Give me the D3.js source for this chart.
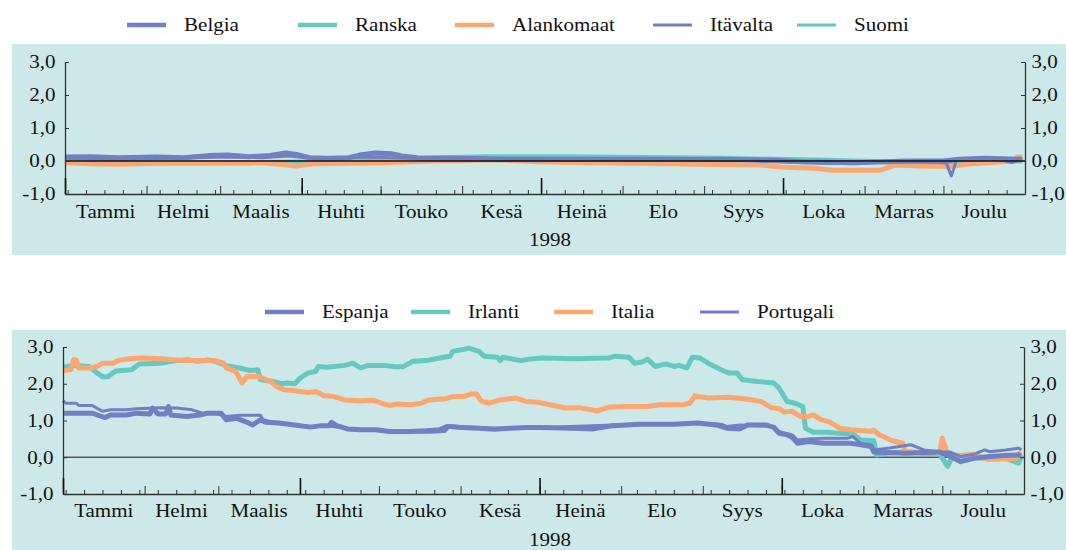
<!DOCTYPE html>
<html>
<head>
<meta charset="utf-8">
<script src="https://cdn.jsdelivr.net/npm/d3@7"></script>
<style>
  body { margin: 0; background: #fff; }
  text { font-family: "Liberation Serif", "Times New Roman", serif; fill: #111; }
</style>
</head>
<body>
<div id="chart"></div>
<script>
// yield spreads, 1998 – values read as [day of year, value]
var monthNames = ["Tammi", "Helmi", "Maalis", "Huhti", "Touko", "Kesä", "Heinä", "Elo", "Syys", "Loka", "Marras", "Joulu"];
var yearLabel = "1998";
var yTicks = [-1, 0, 1, 2, 3];

// top panel
var belgia = [[0,0.12],[10,0.13],[20,0.1],[35,0.12],[45,0.1],[55,0.17],[62,0.18],[70,0.13],[78,0.17],[84,0.24],[88,0.2],[93,0.1],[100,0.08],[108,0.1],[112,0.18],[118,0.24],[124,0.22],[128,0.15],[134,0.1],[150,0.08],[170,0.05],[200,0.05],[230,0.05],[260,0.04],[270,0.02],[280,-0.02],[300,-0.05],[320,0.0],[334,0.0],[340,0.05],[350,0.08],[364,0.05]];
var ranska = [[0,-0.02],[10,-0.05],[40,-0.05],[70,-0.05],[90,-0.03],[110,0.0],[130,0.05],[145,0.1],[160,0.13],[180,0.13],[200,0.12],[230,0.1],[250,0.08],[270,0.05],[290,0.02],[310,-0.02],[330,-0.08],[340,-0.03],[364,0.0]];
var alankomaat = [[0,-0.05],[10,-0.08],[20,-0.1],[35,-0.07],[55,-0.06],[75,-0.05],[82,-0.1],[88,-0.15],[95,-0.08],[120,-0.05],[140,0.0],[165,0.03],[180,-0.02],[200,-0.05],[220,-0.07],[240,-0.1],[265,-0.12],[272,-0.18],[285,-0.22],[292,-0.28],[310,-0.28],[316,-0.12],[325,-0.15],[336,-0.17],[345,-0.08],[355,-0.03],[361,0.0],[362,0.12],[364,0.12]];
var itavalta = [[0,0.08],[15,0.05],[30,0.07],[50,0.1],[60,0.12],[75,0.1],[85,0.15],[95,0.07],[115,0.12],[125,0.1],[140,0.05],[170,0.05],[210,0.07],[250,0.05],[272,-0.03],[290,-0.07],[305,-0.05],[320,-0.02],[335,-0.05],[337,-0.45],[339,0.03],[355,0.05],[360,-0.05],[364,0.05]];
var suomi = [[0,-0.05],[20,-0.08],[50,-0.08],[80,-0.05],[100,0.0],[120,0.05],[150,0.1],[180,0.12],[210,0.1],[240,0.07],[270,0.03],[300,-0.02],[330,-0.05],[345,0.0],[364,0.05]];

// bottom panel
var espanja = [[0,1.2],[11,1.2],[13,1.15],[16,1.08],[18,1.15],[24,1.15],[28,1.2],[33,1.18],[34,1.34],[36,1.18],[39,1.18],[40,1.38],[41,1.15],[47,1.11],[52,1.15],[55,1.2],[60,1.2],[62,1.02],[66,1.06],[70,0.95],[72,0.88],[75,1.02],[77,0.95],[82,0.93],[88,0.88],[94,0.82],[98,0.86],[101,0.86],[102,0.95],[104,0.86],[108,0.77],[113,0.75],[119,0.75],[124,0.7],[132,0.7],[138,0.72],[143,0.75],[146,0.84],[151,0.81],[158,0.79],[164,0.76],[170,0.79],[176,0.81],[181,0.81],[194,0.79],[201,0.77],[209,0.86],[219,0.9],[232,0.9],[241,0.93],[248,0.88],[252,0.79],[257,0.77],[260,0.88],[267,0.88],[270,0.81],[272,0.65],[275,0.61],[277,0.54],[279,0.38],[283,0.43],[289,0.38],[299,0.38],[303,0.34],[307,0.29],[308,0.14],[320,0.11],[333,0.14],[336,0.06],[341,-0.12],[346,-0.03],[352,0.02],[358,0.05],[364,0.06]];
var irlanti = [[0,2.45],[4,2.5],[10,2.47],[13,2.29],[15,2.19],[17,2.19],[20,2.35],[26,2.38],[29,2.54],[37,2.56],[43,2.63],[48,2.65],[51,2.61],[55,2.65],[58,2.61],[62,2.49],[67,2.43],[71,2.36],[74,2.38],[75,2.11],[80,2.06],[83,2.0],[85,2.02],[88,2.0],[90,2.15],[93,2.29],[96,2.34],[97,2.47],[100,2.45],[107,2.5],[110,2.56],[113,2.43],[116,2.5],[122,2.5],[126,2.46],[129,2.46],[133,2.61],[138,2.63],[143,2.7],[147,2.75],[148,2.88],[152,2.93],[154,2.97],[158,2.88],[160,2.75],[165,2.72],[166,2.63],[167,2.72],[174,2.63],[177,2.67],[182,2.7],[194,2.68],[207,2.7],[210,2.75],[215,2.72],[217,2.56],[220,2.59],[222,2.67],[225,2.47],[229,2.54],[232,2.47],[234,2.5],[237,2.43],[239,2.72],[242,2.7],[245,2.56],[250,2.38],[253,2.29],[256,2.29],[258,2.11],[264,2.06],[270,2.02],[272,1.88],[275,1.52],[278,1.47],[281,1.38],[282,0.79],[283,0.75],[285,0.68],[290,0.68],[295,0.65],[300,0.63],[303,0.47],[308,0.45],[309,0.06],[313,0.11],[320,0.15],[327,0.11],[333,0.08],[336,-0.25],[338,0.05],[346,0.0],[352,-0.05],[358,-0.03],[363,-0.16],[364,0.05]];
var italia = [[0,2.36],[3,2.38],[4,2.65],[5,2.65],[6,2.43],[10,2.43],[13,2.47],[15,2.56],[19,2.56],[21,2.63],[25,2.68],[30,2.7],[37,2.68],[44,2.64],[52,2.63],[58,2.63],[61,2.56],[62,2.43],[65,2.35],[66,2.29],[68,2.02],[70,2.2],[74,2.2],[76,2.15],[79,2.06],[81,1.93],[84,1.84],[88,1.81],[93,1.76],[96,1.79],[99,1.68],[103,1.65],[107,1.56],[113,1.54],[118,1.55],[121,1.47],[124,1.41],[127,1.45],[132,1.43],[136,1.47],[139,1.56],[145,1.59],[148,1.65],[152,1.65],[155,1.72],[157,1.72],[159,1.52],[162,1.47],[166,1.56],[172,1.61],[176,1.52],[180,1.5],[185,1.43],[191,1.34],[196,1.35],[203,1.26],[207,1.36],[214,1.38],[222,1.38],[227,1.43],[236,1.43],[238,1.47],[240,1.67],[245,1.61],[253,1.63],[260,1.58],[265,1.52],[269,1.35],[272,1.32],[274,1.23],[277,1.25],[280,1.11],[283,1.11],[285,1.15],[288,1.02],[291,0.97],[295,0.79],[299,0.75],[304,0.72],[307,0.7],[308,0.74],[310,0.61],[315,0.45],[319,0.38],[320,0.15],[327,0.14],[333,0.11],[334,0.52],[336,0.06],[341,0.05],[346,0.08],[351,-0.05],[358,-0.05],[362,-0.03],[363,0.1],[364,0.0]];
var portugali = [[0,1.54],[1,1.47],[5,1.47],[6,1.41],[11,1.41],[15,1.25],[18,1.29],[24,1.29],[28,1.32],[37,1.35],[43,1.34],[49,1.29],[53,1.2],[58,1.2],[62,1.11],[67,1.14],[75,1.14],[76,1.02],[81,0.93],[88,0.88],[94,0.84],[100,0.86],[108,0.79],[113,0.75],[126,0.7],[139,0.68],[145,0.7],[147,0.86],[151,0.84],[164,0.79],[182,0.81],[209,0.88],[241,0.93],[250,0.9],[252,0.84],[257,0.88],[270,0.84],[272,0.7],[277,0.61],[279,0.47],[283,0.5],[289,0.52],[298,0.52],[300,0.56],[303,0.38],[307,0.34],[308,0.2],[314,0.25],[322,0.34],[327,0.2],[333,0.15],[337,0.14],[341,0.02],[346,0.08],[350,0.2],[352,0.15],[358,0.2],[363,0.25],[364,0.2]];

var blue = "#6f80c3", teal = "#67c8c2", orange = "#fba76f";
var SX = 1.17; // text looks horizontally stretched in the original

var svg = d3.select("#chart").append("svg")
    .attr("width", 1066)
    .attr("height", 550);

var fmt = d3.formatLocale({decimal: ",", thousands: " ", grouping: [3], currency: ["", ""], minus: "-"}).format(".1f");
var day = function(d) { return new Date(1998, 0, 1 + d); };

function drawPanel(p) {
    // background
    svg.append("rect")
        .attr("x", 12).attr("y", p.bgTop)
        .attr("width", 1054).attr("height", p.bgBottom - p.bgTop)
        .attr("fill", "#cce8e8");

    var x = d3.scaleTime()
        .domain([new Date(1998, 0, 1), new Date(1999, 0, 1)])
        .range([p.left, p.right]);
    var y = d3.scaleLinear().domain([-1, 3]).range([p.bottom, p.top]);

    // zero line under the lines
    if (!p.zeroOnTop) drawZero();

    var line = d3.line()
        .x(function(d) { return x(day(d[0])); })
        .y(function(d) { return y(d[1]); });

    p.series.forEach(function(s) {
        svg.append("path")
            .datum(s.data)
            .attr("fill", "none")
            .attr("stroke", s.color)
            .attr("stroke-width", s.width)
            .attr("stroke-linejoin", "round")
            .attr("d", line);
    });

    if (p.zeroOnTop) drawZero();

    function drawZero() {
        svg.append("line")
            .attr("x1", p.left).attr("x2", p.right)
            .attr("y1", y(0)).attr("y2", y(0))
            .attr("stroke", p.zeroColor).attr("stroke-width", 1.5);
    }

    // y axes
    var yl = svg.append("g")
        .attr("transform", "translate(" + p.left + ",0)")
        .call(d3.axisLeft(y).tickValues(yTicks).tickSize(-4).tickSizeOuter(0).tickPadding(8).tickFormat(fmt));
    var yr = svg.append("g")
        .attr("transform", "translate(" + p.right + ",0)")
        .call(d3.axisRight(y).tickValues(yTicks).tickSize(-4).tickSizeOuter(0).tickPadding(5.5).tickFormat(fmt));
    [yl, yr].forEach(function(g) {
        g.select(".domain").attr("stroke", "#333").attr("stroke-width", 1.3);
        g.selectAll(".tick line").attr("stroke", "#333");
        g.selectAll("text")
            .style("font-family", "Liberation Serif")
            .style("font-size", "18px")
            .attr("fill", "#111")
            .attr("transform", "scale(" + SX + ",1)");
    });

    // x axis: weekly, monthly and quarterly ticks pointing up
    var weeks = d3.timeFriday.range(new Date(1998, 0, 1), new Date(1999, 0, 1));
    var months = d3.timeMonth.range(new Date(1998, 0, 1), new Date(1999, 0, 1));
    var quarters = months.filter(function(m) { return m.getMonth() % 3 === 0; });

    var xa = svg.append("g")
        .attr("transform", "translate(0," + p.bottom + ")")
        .call(d3.axisBottom(x).tickValues(weeks).tickSize(-4).tickSizeOuter(0).tickFormat(""));
    xa.select(".domain").attr("stroke", "#333").attr("stroke-width", 1.3);
    xa.selectAll(".tick line").attr("stroke", "#333");

    svg.append("g")
        .attr("transform", "translate(0," + p.bottom + ")")
        .call(d3.axisBottom(x).tickValues(months).tickSize(-8).tickSizeOuter(0).tickFormat(""))
        .call(function(g) { g.select(".domain").remove(); })
        .selectAll(".tick line").attr("stroke", "#333");

    svg.append("g")
        .attr("transform", "translate(0," + p.bottom + ")")
        .call(d3.axisBottom(x).tickValues(quarters).tickSize(-16).tickSizeOuter(0).tickFormat(""))
        .call(function(g) { g.select(".domain").remove(); })
        .selectAll(".tick line").attr("stroke", "#111").attr("stroke-width", 1.6);

    // month names centred in each month
    svg.append("g").selectAll("text")
        .data(months)
        .enter()
        .append("text")
        .attr("text-anchor", "middle")
        .attr("font-size", 18)
        .attr("transform", function(d, i) {
            var mid = (x(d) + x(d3.timeMonth.offset(d, 1))) / 2;
            return "translate(" + mid + "," + p.monthY + ") scale(" + SX + ",1)";
        })
        .text(function(d, i) { return monthNames[i]; });

    svg.append("text")
        .attr("text-anchor", "middle")
        .attr("font-size", 18)
        .attr("transform", "translate(" + p.yearX + "," + p.yearY + ") scale(" + SX + ",1)")
        .text(yearLabel);

    // legend
    var lg = svg.append("g").selectAll("g")
        .data(p.series.filter(function(s) { return s.legendX != null; }))
        .enter()
        .append("g");
    lg.append("line")
        .attr("x1", function(s) { return s.legendX; })
        .attr("x2", function(s) { return s.legendX + 39; })
        .attr("y1", p.legendY).attr("y2", p.legendY)
        .attr("stroke", function(s) { return s.color; })
        .attr("stroke-width", function(s) { return s.width > 4 ? 4.5 : 3; });
    lg.append("text")
        .attr("font-size", 18)
        .attr("transform", function(s) {
            return "translate(" + (s.legendX + 57) + "," + (p.legendY + 6) + ") scale(" + SX + ",1)";
        })
        .text(function(s) { return s.name; });
}

drawPanel({
    bgTop: 44, bgBottom: 255,
    left: 65, right: 1025, top: 62, bottom: 194,
    monthY: 218, yearX: 550, yearY: 246, legendY: 25,
    zeroOnTop: true, zeroColor: "#111",
    series: [
        {name: "Suomi", data: suomi, color: teal, width: 3, legendX: 797},
        {name: "Ranska", data: ranska, color: teal, width: 5, legendX: 298},
        {name: "Alankomaat", data: alankomaat, color: orange, width: 5, legendX: 455},
        {name: "Itävalta", data: itavalta, color: blue, width: 3, legendX: 653},
        {name: "Belgia", data: belgia, color: blue, width: 5, legendX: 127}
    ]
});

drawPanel({
    bgTop: 330, bgBottom: 550,
    left: 63, right: 1024, top: 347, bottom: 494,
    monthY: 517, yearX: 550, yearY: 546, legendY: 312,
    zeroOnTop: false, zeroColor: "#555",
    series: [
        {name: "Irlanti", data: irlanti, color: teal, width: 5, legendX: 411},
        {name: "Italia", data: italia, color: orange, width: 5, legendX: 554},
        {name: "Portugali", data: portugali, color: blue, width: 3, legendX: 700},
        {name: "Espanja", data: espanja, color: blue, width: 5, legendX: 265}
    ]
});
</script>
</body>
</html>
